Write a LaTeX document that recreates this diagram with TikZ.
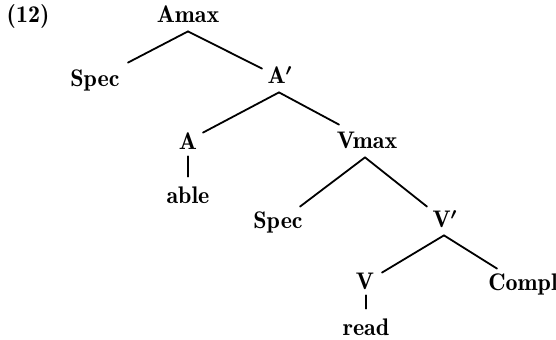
\documentclass[tikz,border=0pt]{standalone}
\usepackage{fontspec}
\newfontfamily\demifont{lmromandemi10-regular.otf}
\usetikzlibrary{calc}
\begin{document}
\begin{tikzpicture}[x=0.5pt,y=-0.5pt,
  tn/.style={font=\fontsize{12}{14}\demifont\boldmath, inner sep=0pt, text height=7.5pt, text depth=0pt, anchor=base},
  edge/.style={line width=0.9pt, line cap=round}]
\useasboundingbox (0,0) rectangle (556,340);
\node[tn] (n12) at (28,23) {(12)};
\node[tn] (Amax) at (188,23) {Amax};
\node[tn] (SpecA) at (95,87) {Spec};
\node[tn] (Abar) at (280,84) {A$'$};
\node[tn] (A) at (188,150) {A};
\node[tn] (able) at (188,204) {able};
\node[tn] (Vmax) at (367,149) {Vmax};
\node[tn] (SpecV) at (278,229) {Spec};
\node[tn] (Vbar) at (445,228) {V$'$};
\node[tn] (V) at (365,290) {V};
\node[tn] (Compl) at (523,291) {Compl};
\node[tn] (read) at (366,336) {read};
\draw[edge] ($(Amax.south)+(0,8)$) -- ($(SpecA.north)+(33,-9)$);
\draw[edge] ($(Amax.south)+(0,8)$) -- ($(Abar.north)+(-18,0)$);
\draw[edge] ($(Abar.south)+(-1,8)$) -- ($(A.north)+(15,-2)$);
\draw[edge] ($(Abar.south)+(-1,8)$) -- ($(Vmax.north)+(-28,-9)$);
\draw[edge] ($(A.south)+(0,6)$) -- ($(able.north)+(0,-12)$);
\draw[edge] ($(Vmax.south)+(-2,8)$) -- ($(SpecV.north)+(22,-7)$);
\draw[edge] ($(Vmax.south)+(-2,8)$) -- ($(Vbar.north)+(-18,-6)$);
\draw[edge] ($(Vbar.south)+(-1,7)$) -- ($(V.north)+(17,-2)$);
\draw[edge] ($(Vbar.south)+(-1,7)$) -- ($(Compl.north)+(-26,-7)$);
\draw[edge] ($(V.south)+(1,5)$) -- ($(read.north)+(0,-12)$);
\end{tikzpicture}
\end{document}
